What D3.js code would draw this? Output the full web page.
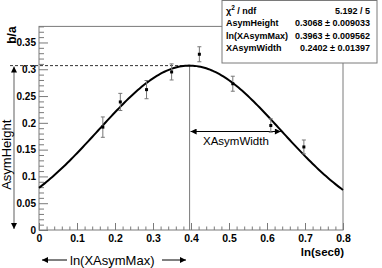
<!DOCTYPE html>
<html>
<head>
<meta charset="utf-8">
<script src="https://cdn.jsdelivr.net/npm/d3@7"></script>
<style>
  html, body { margin: 0; padding: 0; background: #fff; }
  svg { display: block; }
  text { font-family: "Liberation Sans", Arial, Helvetica, sans-serif; }
</style>
</head>
<body>
<svg id="chart" width="382" height="268"></svg>
<script>
// ---- data ----
const pointX   = [0.168, 0.214, 0.283, 0.349, 0.422, 0.510, 0.610, 0.697];
const pointY   = [0.192, 0.239, 0.262, 0.295, 0.328, 0.273, 0.195, 0.155];
const pointErr = [0.019, 0.016, 0.017, 0.015, 0.014, 0.014, 0.0125, 0.013];
// fit parameters: AsymHeight, ln(XAsymMax), XAsymWidth
const fitNames  = ["AsymHeight", "ln(XAsymMax)", "XAsymWidth"];
const fitValues = ["0.3068", "0.3963", "0.2402"];
const fitErrors = ["0.009033", "0.009562", "0.01397"];
const chi2Text  = "5.192 / 5";
const xTickVals = [0, 0.1, 0.2, 0.3, 0.4, 0.5, 0.6, 0.7, 0.8];
const xTickLabels = ["0", "0.1", "0.2", "0.3", "0.4", "0.5", "0.6", "0.7", "0.8"];
const yTickVals = [0, 0.05, 0.1, 0.15, 0.2, 0.25, 0.3, 0.35];
const yTickLabels = ["0", "0.05", "0.1", "0.15", "0.2", "0.25", "0.3", "0.35"];

const svg = d3.select("#chart");
const x = d3.scaleLinear().domain([0, 0.8]).range([39, 343]);
const y = d3.scaleLinear().domain([0, 0.38]).range([230, 26.4]);

const H = +fitValues[0], M = +fitValues[1], W = +fitValues[2];
const fitFn = t => H * Math.exp(-0.5 * Math.pow((t - M) / W, 2));

const frameCol = "#7a7a7a";

// arrow markers
const defs = svg.append("defs");
defs.append("marker").attr("id", "ah").attr("viewBox", "0 0 10 10")
  .attr("refX", 10).attr("refY", 5).attr("markerWidth", 7).attr("markerHeight", 6)
  .attr("markerUnits", "userSpaceOnUse").attr("orient", "auto-start-reverse")
  .append("path").attr("d", "M0,0 L10,5 L0,10 Z").attr("fill", "#000");

// frame
svg.append("rect").attr("x", x(0)).attr("y", y(0.38))
  .attr("width", x(0.8) - x(0)).attr("height", y(0) - y(0.38))
  .attr("fill", "none").attr("stroke", frameCol).attr("stroke-width", 1);

// y axis
const yMinor = d3.range(0, 0.3801, 0.01).filter(v => Math.abs(v / 0.05 - Math.round(v / 0.05)) > 1e-6);
const yAxis = d3.axisLeft(y).tickValues(yTickVals).tickSize(-9).tickPadding(3)
  .tickFormat((d, i) => yTickLabels[i]);
const gy = svg.append("g").attr("transform", `translate(${x(0)},0)`).call(yAxis);
gy.select(".domain").remove();
gy.selectAll("line").attr("stroke", frameCol);
gy.selectAll("text").attr("font-size", 10).attr("font-weight", "bold").attr("fill", "#000");
const gy2 = svg.append("g").attr("transform", `translate(${x(0)},0)`)
  .call(d3.axisLeft(y).tickValues(yMinor).tickSize(-5).tickFormat(""));
gy2.select(".domain").remove();
gy2.selectAll("line").attr("stroke", frameCol);

// x axis
const xMinor = d3.range(0, 0.8001, 0.02).filter(v => Math.abs(v / 0.1 - Math.round(v / 0.1)) > 1e-6);
const xAxis = d3.axisBottom(x).tickValues(xTickVals).tickSize(-7).tickPadding(5)
  .tickFormat((d, i) => xTickLabels[i]);
const gx = svg.append("g").attr("transform", `translate(0,${y(0)})`).call(xAxis);
gx.select(".domain").remove();
gx.selectAll("line").attr("stroke", frameCol);
gx.selectAll("text").attr("font-size", 10.5).attr("font-weight", "bold").attr("fill", "#000");
const gx2 = svg.append("g").attr("transform", `translate(0,${y(0)})`)
  .call(d3.axisBottom(x).tickValues(xMinor).tickSize(-3.5).tickFormat(""));
gx2.select(".domain").remove();
gx2.selectAll("line").attr("stroke", frameCol);

// axis titles
svg.append("text").attr("x", x(0.8) + 1).attr("y", 256).attr("text-anchor", "end")
  .attr("font-size", 11.5).attr("font-weight", "bold").text("ln(secθ)");
svg.append("text").attr("transform", `translate(16,${y(0.38)}) rotate(-90)`)
  .attr("text-anchor", "end").attr("font-size", 12).attr("font-weight", "bold").text("b/a");

// dashed line at AsymHeight
svg.append("line").attr("x1", 10).attr("x2", x(M)).attr("y1", y(H)).attr("y2", y(H))
  .attr("stroke", "#333").attr("stroke-dasharray", "3,2").attr("stroke-width", 1);
// vertical line at XAsymMax
svg.append("line").attr("x1", x(M)).attr("x2", x(M)).attr("y1", y(H)).attr("y2", y(0))
  .attr("stroke", frameCol).attr("stroke-width", 1);

// AsymHeight vertical arrow
svg.append("line").attr("x1", 14).attr("x2", 14).attr("y1", y(0) - 1).attr("y2", y(H) + 1)
  .attr("stroke", frameCol).attr("stroke-width", 1.2)
  .attr("marker-start", "url(#ah)").attr("marker-end", "url(#ah)");
svg.append("text").attr("transform", `translate(11,${(y(0) + y(H)) / 2 + 7}) rotate(-90)`)
  .attr("text-anchor", "middle").attr("font-size", 13).text("AsymHeight");

// XAsymWidth arrow
const yW = 131.5;
svg.append("line").attr("x1", x(M) + 1).attr("x2", x(M + W)).attr("y1", yW).attr("y2", yW)
  .attr("stroke", "#000").attr("stroke-width", 1)
  .attr("marker-start", "url(#ah)").attr("marker-end", "url(#ah)");
svg.append("text").attr("x", 203).attr("y", 145).attr("font-size", 11.5).text("XAsymWidth");

// ln(XAsymMax) arrow below axis
const yB = 260;
svg.append("line").attr("x1", 67).attr("x2", 42).attr("y1", yB).attr("y2", yB)
  .attr("stroke", "#000").attr("stroke-width", 1).attr("marker-end", "url(#ah)");
svg.append("line").attr("x1", 162).attr("x2", 186).attr("y1", yB).attr("y2", yB)
  .attr("stroke", "#000").attr("stroke-width", 1).attr("marker-end", "url(#ah)");
svg.append("text").attr("x", 70).attr("y", 264.5).attr("font-size", 13).text("ln(XAsymMax)");

// fit curve
const curveX = d3.range(0, 0.8001, 0.005);
svg.append("path").datum(curveX)
  .attr("d", d3.line().x(d => x(d)).y(d => y(fitFn(d))))
  .attr("fill", "none").attr("stroke", "#000").attr("stroke-width", 2);

// data points with error bars
const pts = svg.append("g");
pointX.forEach((px, i) => {
  const cx = x(px), cy = y(pointY[i]);
  const t = y(pointY[i] + pointErr[i]), b = y(pointY[i] - pointErr[i]);
  pts.append("line").attr("x1", cx).attr("x2", cx).attr("y1", t).attr("y2", b)
    .attr("stroke", "#777").attr("stroke-width", 1);
  [t, b].forEach(yy => pts.append("line").attr("x1", cx - 2).attr("x2", cx + 2)
    .attr("y1", yy).attr("y2", yy).attr("stroke", "#777").attr("stroke-width", 1));
  pts.append("rect").attr("x", cx - 1.5).attr("y", cy - 1.5).attr("width", 3).attr("height", 3)
    .attr("fill", "#000");
});

// stats box
const bx = 222, bw = 155, by = 0.5, bh = 62.5;
svg.append("rect").attr("x", bx).attr("y", by).attr("width", bw).attr("height", bh)
  .attr("fill", "#fff").attr("stroke", frameCol).attr("stroke-width", 1);
const rowsY = [13.5, 26, 38.5, 51];
const lab0 = svg.append("text").attr("x", bx + 4).attr("y", rowsY[0])
  .attr("font-size", 9).attr("font-weight", "bold");
lab0.append("tspan").text("χ");
lab0.append("tspan").attr("font-size", 6.5).attr("dy", -3.5).text("2");
lab0.append("tspan").attr("dy", 3.5).text(" / ndf");
svg.append("text").attr("x", bx + bw - 7).attr("y", rowsY[0]).attr("text-anchor", "end")
  .attr("font-size", 9).attr("font-weight", "bold").text(chi2Text);
fitNames.forEach((n, i) => {
  svg.append("text").attr("x", bx + 4).attr("y", rowsY[i + 1])
    .attr("font-size", 9).attr("font-weight", "bold").text(n);
  svg.append("text").attr("x", bx + bw - 7).attr("y", rowsY[i + 1]).attr("text-anchor", "end")
    .attr("font-size", 9).attr("font-weight", "bold")
    .text(fitValues[i] + " ± " + fitErrors[i]);
});
</script>
</body>
</html>
